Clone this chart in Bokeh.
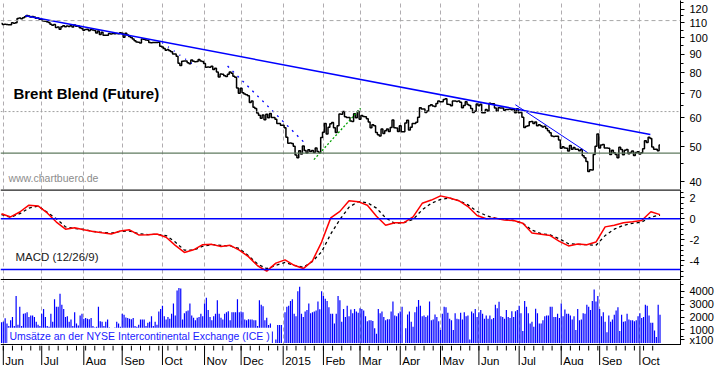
import pandas as pd
from bokeh.plotting import figure
from bokeh.layouts import column
from bokeh.models import (Range1d, FixedTicker, NumeralTickFormatter, Grid, Span,
                          Label, ColumnDataSource)
from bokeh.embed import file_html
from bokeh.resources import INLINE

FONT = "Liberation Sans"

# ---------------- data (one value per trading day from 2014-05-30) ----------------
close = [
    109.4,
    # Jun 2014
    108.8, 109.0, 108.8, 108.6, 108.6, 110.0, 109.6, 110.0, 113.0, 113.4, 112.9, 113.5, 114.3, 115.1, 114.8, 114.1, 114.5, 114.0, 113.2, 113.3, 112.4,
    # Jul 2014
    112.3, 111.2, 111.0, 110.6, 110.2, 108.9, 108.3, 108.7, 106.7, 107.0, 105.6, 107.2, 107.9, 107.2, 107.7, 107.3, 108.0, 107.1, 108.4, 107.6, 107.7, 106.5, 106.0,
    # Aug 2014
    104.8, 105.4, 105.6, 104.6, 105.4, 105.0, 104.7, 103.0, 104.3, 102.0, 103.5, 101.6, 101.6, 101.6, 102.7, 102.3, 102.7, 102.5, 102.7, 102.5, 103.2,
    # Sep 2014
    102.8, 100.3, 102.8, 101.8, 100.8, 100.2, 99.2, 98.1, 97.3, 97.1, 96.7, 99.1, 99.0, 98.5, 98.4, 97.0, 96.9, 97.0, 97.0, 97.0, 97.2, 94.7,
    # Oct 2014
    94.2, 93.4, 92.3, 92.7, 92.1, 91.4, 90.1, 90.2, 88.9, 85.0, 83.8, 86.1, 86.2, 86.2, 85.3, 84.7, 86.8, 86.1, 85.8, 86.0, 87.1, 86.2, 85.9,
    # Nov 2014
    84.8, 82.8, 83.0, 82.9, 83.4, 81.7, 82.3, 80.4, 77.9, 79.4, 79.3, 78.5, 78.1, 79.3, 80.4, 79.7, 78.3, 77.8, 72.6, 70.2,
    # Dec 2014
    72.5, 70.5, 69.9, 69.6, 69.1, 66.2, 66.8, 64.2, 63.7, 61.9, 61.1, 59.9, 61.2, 59.3, 61.4, 60.1, 61.7, 60.2, 60.2, 59.5, 57.9, 57.9, 57.3,
    # Jan 2015
    57.3, 56.4, 53.1, 51.1, 51.2, 51.0, 50.1, 47.4, 46.6, 48.7, 47.7, 50.2, 48.8, 48.0, 49.0, 48.5, 48.8, 48.2, 49.6, 48.5, 48.1, 53.0,
    # Feb 2015
    54.8, 57.9, 54.2, 56.6, 57.8, 58.3, 56.4, 54.7, 57.1, 61.5, 61.4, 62.5, 60.5, 60.2, 60.2, 58.9, 58.7, 61.6, 60.1, 62.6,
    # Mar 2015
    59.5, 61.0, 60.6, 60.5, 59.7, 58.5, 56.4, 57.5, 57.1, 54.7, 53.9, 53.5, 55.9, 54.4, 55.3, 55.9, 55.1, 56.5, 59.2, 56.4, 56.3, 55.1,
    # Apr 2015
    57.1, 55.0, 55.0, 58.1, 59.1, 55.6, 56.6, 57.9, 57.9, 58.4, 60.3, 64.0, 63.5, 63.5, 62.1, 62.7, 64.9, 65.3, 64.8, 64.6, 65.8, 66.8,
    # May 2015
    66.5, 66.5, 67.5, 67.8, 65.5, 65.4, 64.9, 66.9, 66.8, 66.6, 66.8, 66.3, 64.0, 65.0, 66.5, 65.4, 65.0, 63.7, 62.1, 62.6, 65.6,
    # Jun 2015
    64.9, 65.5, 62.0, 62.0, 63.3, 62.7, 65.9, 65.7, 65.7, 63.9, 62.6, 64.0, 63.9, 63.9, 63.0, 63.3, 63.3, 63.5, 63.2, 63.3, 62.0, 63.6,
    # Jul 2015
    62.0, 62.1, 60.3, 56.5, 56.9, 57.1, 58.6, 58.7, 57.9, 58.5, 57.1, 57.5, 57.1, 56.7, 56.9, 56.1, 55.3, 54.6, 53.5, 53.3, 53.4, 53.4, 52.2,
    # Aug 2015
    49.5, 50.0, 49.6, 49.5, 48.6, 50.4, 49.2, 49.7, 49.2, 49.2, 48.7, 49.1, 47.2, 46.6, 45.5, 42.7, 43.2, 43.1, 47.6, 50.1, 54.2,
    # Sep 2015
    49.6, 50.5, 50.7, 49.6, 49.6, 49.5, 47.6, 48.9, 48.1, 47.6, 46.6, 49.8, 49.1, 47.5, 48.9, 49.1, 47.8, 48.2, 48.6, 47.3, 48.2, 48.4,
    # Oct 2015
    47.7, 48.1, 49.3, 51.9, 51.3, 53.1, 52.7, 49.9, 49.2, 49.2, 48.7, 50.5,
]

# volume in hundreds of contracts
volume = [
    1600,
    # Jun 2014
    1630, 1900, 1500, 1300, 1750, 2000, 1300, 3630, 1400, 2800, 1300, 2250, 2300, 2380, 2000, 2130, 2130, 2000, 1630, 1400, 1300,
    # Jul 2014
    2250, 2630, 2005, 1300, 1250, 2255, 1630, 3380, 2800, 2800, 3810, 2955, 2630, 2005, 2055, 1630, 1805, 1300, 2380, 1505, 1350, 2130, 2255,
    # Aug 2014
    1880, 1930, 1880, 1830, 1930, 1300, 1200, 1250, 2805, 1680, 1630, 1300, 1630, 1805, 1200, 1150, 1100, 1200, 1630, 1505, 1250,
    # Sep 2014
    2255, 2180, 1960, 1930, 1880, 1830, 1930, 1300, 1250, 1400, 1805, 1805, 1805, 1300, 1555, 1630, 2055, 1300, 1630, 1400, 2430, 2630,
    # Oct 2014
    2880, 2055, 1805, 2005, 1880, 2255, 3055, 2130, 4060, 4260, 4210, 1805, 2305, 2455, 2505, 3055, 2130, 1955, 1755, 1955, 2005, 2255, 2055,
    # Nov 2014
    3055, 3505, 2555, 2005, 1755, 2055, 2255, 3300, 2255, 1955, 1805, 2255, 2380, 2455, 1755, 2380, 2380, 2380, 3380, 2380,
    # Dec 2014
    2430, 2380, 1805, 1755, 1830, 1805, 1805, 1755, 1755, 1300, 3300, 2955, 2830, 1755, 1955, 1380, 1505, 880, 0, 255, 1380, 1380, 1380,
    # Jan 2015
    0, 2380, 2805, 2880, 3255, 3380, 2255, 2055, 4010, 4360, 2255, 2005, 2430, 2555, 3055, 2305, 2380, 2430, 2505, 3205, 2600, 4010,
    # Feb 2015
    3630, 3430, 3255, 2755, 2255, 2255, 1505, 2255, 3630, 3300, 1630, 2630, 2005, 2880, 2055, 2580, 2305, 2630, 2430, 2330,
    # Mar 2015
    2680, 2630, 2505, 2055, 1680, 1755, 1755, 1705, 1130, 705, 2630, 2305, 2430, 2005, 1755, 1830, 1830, 2430, 3205, 2130, 2055, 2305,
    # Apr 2015
    2430, 2805, 0, 1130, 2205, 2430, 1630, 1255, 2380, 2805, 3330, 2880, 2055, 2130, 2005, 2130, 3205, 1755, 1805, 2205, 2005, 1680,
    # May 2015
    1005, 2255, 2805, 2755, 2330, 1880, 1755, 1005, 2305, 1880, 1830, 2330, 1805, 2380, 2055, 2130, 255, 2430, 2305, 2630, 2005,
    # Jun 2015
    2380, 2555, 2255, 1880, 2130, 1880, 2130, 1830, 1930, 2955, 2680, 3180, 2055, 2005, 1880, 2555, 2005, 1930, 2455, 2005, 2455, 2555,
    # Jul 2015
    2880, 2305, 930, 3255, 2805, 2305, 1505, 1630, 1255, 2655, 2305, 1505, 1505, 1755, 2055, 2130, 2130, 2805, 2805, 2005, 2005, 2255, 1930,
    # Aug 2015
    3055, 2055, 2580, 2255, 2255, 2130, 1805, 2055, 1005, 2630, 1755, 1805, 2305, 2255, 2955, 2805, 2555, 3255, 4135, 3205, 3630,
    # Sep 2015
    2630, 2055, 2380, 1630, 830, 2130, 1630, 1805, 2180, 2505, 2755, 930, 2180, 1630, 1680, 2255, 1805, 1755, 1755, 1680, 1755, 2055,
    # Oct 2015
    2305, 1930, 2005, 2955, 2880, 2130, 1555, 1555, 955, 455, 2955, 2180,
]

# MACD (12/26/9), read once a week (every 5th trading day)
macd = [0.49, 0.18, 0.65, 1.30, 1.23, 0.56, -0.31, -0.99, -0.86, -1.05,
        -1.20, -1.33, -1.45, -1.17, -1.05, -1.54, -1.51, -1.45, -1.76, -2.53,
        -3.21, -2.96, -2.47, -2.44, -2.65, -2.53, -2.99, -3.61, -4.48, -5.00,
        -4.23, -3.92, -4.44, -4.75, -4.01, -2.22, 0.09, 0.71, 1.73, 1.64,
        1.30, 0.25, -0.62, -0.37, -0.37, 0.18, 1.48, 1.79, 2.19, 1.98,
        1.73, 1.17, 0.31, 0.00, 0.06, -0.12, -0.16, -0.43, -1.36, -1.48,
        -1.60, -2.16, -2.59, -2.41, -2.47, -2.22, -0.77, -0.62, -0.37, -0.28,
        -0.16, 0.68, 0.40]
signal = [0.40, 0.15, 0.49, 1.02, 1.23, 0.62, 0.00, -0.77, -0.93, -1.02,
          -1.20, -1.30, -1.36, -1.20, -1.17, -1.42, -1.51, -1.48, -1.60, -2.22,
          -2.99, -2.99, -2.62, -2.47, -2.53, -2.59, -2.84, -3.52, -4.32, -4.75,
          -4.44, -4.17, -4.44, -4.63, -4.07, -3.15, -1.45, -0.06, 1.11, 1.64,
          1.54, 1.02, 0.09, -0.43, -0.37, -0.06, 0.86, 1.48, 1.85, 1.98,
          1.73, 1.33, 0.71, 0.31, 0.06, -0.06, -0.16, -0.43, -1.08, -1.42,
          -1.54, -1.91, -2.38, -2.44, -2.47, -2.53, -1.60, -0.99, -0.62, -0.43,
          -0.31, 0.18, 0.34]

month_labels = ["Jun", "Jul", "Aug", "Sep", "Oct", "Nov", "Dec", "2015", "Feb",
                "Mar", "Apr", "May", "Jun", "Jul", "Aug", "Sep", "Oct"]

price_ticks = [40, 50, 60, 70, 80, 90, 100, 110, 120]
price_minor = [45, 55, 65, 75, 85, 95, 105, 115, 125]
macd_ticks = [-4, -2, 0, 2]
macd_minor = [-5.5, -5, -4.5, -3.5, -3, -2.5, -1.5, -1, -0.5, 0.5, 1, 1.5, 2.5]
vol_ticks = [1000, 2000, 3000, 4000]
vol_minor = [500, 1500, 2500, 3500, 4500]
vol_unit_pos = 250          # where the "x100" unit note sits on the volume scale

# hand-drawn lines of the chartist: (trading-day positions, prices)
trend_long = ([13.0, 354.7], [115.0, 54.0])
trend_oct = ([87.9, 106.8], [96.8, 83.0])
trend_nov = ([123.6, 165.9], [83.5, 51.1])
trend_green = ([170.8, 196.3], [46.05, 63.8])
trend_summer = ([280.9, 320.5], [65.3, 48.1])
level_high = 111.5
level_mid = 62.5
level_support = 48.0
macd_low_level = -4.85

# ---------------- layout (fits a 715 x 365 area inside the 8px page margin) ----------------
dates = pd.bdate_range("2014-05-30", "2015-10-16")
n = min(len(dates), len(close), len(volume))
idx = list(range(n))
src = ColumnDataSource(dict(i=idx, close=close[:n], volume=volume[:n]))
nw = min(len(macd), len(signal))
msrc = ColumnDataSource(dict(i=[5 * k for k in range(nw)], macd=macd[:nw], signal=signal[:nw]))

month_starts = pd.date_range("2014-06-01", "2015-10-01", freq="MS")
month_idx = [int(dates.searchsorted(m)) for m in month_starts]
week_idx = [i for i, d in enumerate(dates) if d.dayofweek == 0]

xr = Range1d(start=-0.54, end=371.2)
FW = 680
H_PRICE, H_MACD, H_VOL, H_DATE = 189, 91, 65, 20


def make_fig(h, yr, ytype="linear"):
    p = figure(frame_width=FW, frame_height=h, x_range=xr, y_range=yr,
               y_axis_type=ytype, x_axis_location=None, y_axis_location="right",
               toolbar_location=None, output_backend="svg", title=None,
               min_border_left=0, min_border_right=0, min_border_top=0,
               min_border_bottom=0, outline_line_color=None,
               background_fill_color="white", border_fill_color="white")
    p.grid.visible = False
    p.add_layout(Grid(dimension=0, ticker=FixedTicker(ticks=month_idx),
                      grid_line_color="#b0acb0", grid_line_dash="4 3",
                      grid_line_width=1))
    return p


def style_axis(p, ticks, minor):
    ax = p.yaxis[0]
    ax.ticker = FixedTicker(ticks=ticks, minor_ticks=minor)
    ax.formatter = NumeralTickFormatter(format="0")
    ax.major_label_text_font = FONT
    ax.major_label_text_font_size = "11px"
    ax.major_label_text_color = "black"
    ax.major_tick_in = 0
    ax.major_tick_out = 4
    ax.minor_tick_in = 0
    ax.minor_tick_out = 3
    ax.major_tick_line_color = "black"
    ax.minor_tick_line_color = "black"
    ax.axis_line_color = "black"
    ax.major_label_standoff = 5
    return ax


def tline(p, tl, **kw):
    p.line(x=tl[0], y=tl[1], **kw)


# ---- price panel ----
p1 = make_fig(H_PRICE, Range1d(38.07, 126.7), "log")
style_axis(p1, price_ticks, price_minor)
p1.add_layout(Span(location=level_high, dimension="width", line_color="#a8a8a8",
                   line_dash="4 3", line_width=1))
p1.add_layout(Span(location=level_mid, dimension="width", line_color="#a0a0a0",
                   line_dash="2 2", line_width=1))
p1.add_layout(Span(location=level_support, dimension="width", line_color="#5f7a5f",
                   line_width=1.3))
p1.step(x="i", y="close", source=src, mode="center", line_color="black",
        line_width=1.5)

tline(p1, trend_long, line_color="#0000ff", line_width=1.5)
tline(p1, trend_oct, line_color="#0000ff", line_width=1.3, line_dash="1 6")
tline(p1, trend_nov, line_color="#0000ff", line_width=1.3, line_dash="2 5")
tline(p1, trend_green, line_color="#00a000", line_width=1.3, line_dash="2 2")
tline(p1, trend_summer, line_color="#0000ff", line_width=1)

p1.add_layout(Label(x=6.5, y=69.9, text="Brent Blend (Future)",
                    text_font=FONT, text_font_size="15px", text_font_style="bold",
                    text_color="black", text_baseline="alphabetic"))
p1.add_layout(Label(x=3.8, y=41.0, text="www.chartbuero.de",
                    text_font=FONT, text_font_size="10.5px", text_color="#8c8c8c",
                    text_baseline="alphabetic"))

# ---- MACD panel ----
myr = Range1d(-5.89, 2.80)
p2 = make_fig(H_MACD, myr)
style_axis(p2, macd_ticks, macd_minor)
p2.add_layout(Span(location=0, dimension="width", line_color="#0000ff", line_width=1.5))
p2.add_layout(Span(location=macd_low_level, dimension="width", line_color="#0000ff",
                   line_width=1.5))
p2.add_layout(Span(location=myr.end, dimension="width", line_color="#202020", line_width=2.5))
p2.add_layout(Span(location=myr.start, dimension="width", line_color="black", line_width=3))
p2.line(x="i", y="signal", source=msrc, line_color="black", line_width=1.3,
        line_dash="3 3")
p2.line(x="i", y="macd", source=msrc, line_color="#ff0000", line_width=1.5)
p2.add_layout(Label(x=7.6, y=-3.64, text="MACD (12/26/9)",
                    text_font=FONT, text_font_size="11.5px", text_color="#202020",
                    text_baseline="alphabetic"))

# ---- volume panel ----
vyr = Range1d(-203, 4835)
p3 = make_fig(H_VOL, vyr)
ax3 = style_axis(p3, vol_ticks + [vol_unit_pos], vol_minor)
ax3.major_label_overrides = {vol_unit_pos: "x100"}
p3.vbar(x="i", top="volume", bottom=0, width=0.65, source=src,
        fill_color="#0000ff", line_color=None)
p3.add_layout(Span(location=vyr.start, dimension="width", line_color="black", line_width=3))
p3.add_layout(Label(x=3.25, y=549,
                    text="Umsätze an der NYSE Intercontinental Exchange (ICE )",
                    text_font=FONT, text_font_size="10.5px", text_color="#1a1aff",
                    text_baseline="alphabetic", background_fill_color="white",
                    background_fill_alpha=1.0, padding=2))

# ---- date row ----
p4 = figure(frame_width=FW, frame_height=H_DATE, x_range=xr, y_range=Range1d(0, H_DATE),
            x_axis_location=None, y_axis_location="right",
            toolbar_location=None, output_backend="svg", title=None,
            min_border_left=0, min_border_right=0, min_border_top=0,
            min_border_bottom=0, outline_line_color=None)
p4.grid.visible = False
ax4 = p4.yaxis[0]
ax4.ticker = FixedTicker(ticks=[])
ax4.major_tick_line_color = None
ax4.minor_tick_line_color = None
ax4.major_label_text_font_size = "0px"
ax4.axis_line_color = "black"
p4.segment(x0=week_idx, x1=week_idx, y0=[H_DATE] * len(week_idx),
           y1=[H_DATE - 5] * len(week_idx), line_color="black", line_width=1)
p4.segment(x0=month_idx, x1=month_idx, y0=[H_DATE] * len(month_idx),
           y1=[0] * len(month_idx), line_color="black", line_width=1)
for mi, lab in zip(month_idx, month_labels):
    p4.add_layout(Label(x=mi, y=5, x_offset=2, text=lab, text_font=FONT,
                        text_font_size="11.5px", text_color="black",
                        text_baseline="alphabetic", text_align="left"))

layout = column(p1, p2, p3, p4, spacing=0)
open("out.html", "w").write(file_html(layout, INLINE))
